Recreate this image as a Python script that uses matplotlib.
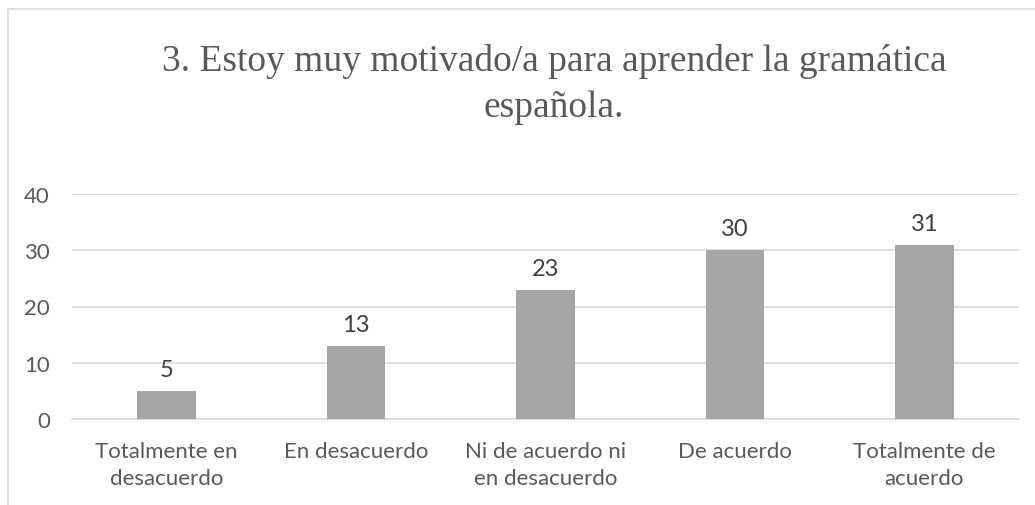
import matplotlib.pyplot as plt
from matplotlib.patches import Rectangle

categories = ['Totalmente en\ndesacuerdo', 'En desacuerdo',
              'Ni de acuerdo ni\nen desacuerdo', 'De acuerdo',
              'Totalmente de\nacuerdo']
values = [5, 13, 23, 30, 31]
yticks = [0, 10, 20, 30, 40]
title = '3. Estoy muy motivado/a para aprender la gramática\nespañola.'

W, H = 1035, 506
fig = plt.figure(figsize=(W / 100, H / 100), dpi=100)
ax = fig.add_axes([72 / W, 1 - 420 / H, (1019 - 72) / W, (420 - 195) / H])

# chart frame: only top and left edges fall inside the picture
fig.patches.append(Rectangle((8 / W, -0.1), 1.2, 1.1 - 10 / H,
                             transform=fig.transFigure, fill=False,
                             edgecolor='#D9D9D9', linewidth=1.2))

x = range(len(values))
ax.bar(x, values, width=0.31, color='#A5A5A5', zorder=3)
for i, v in zip(x, values):
    ax.annotate(str(v), (i, v), xytext=(0, 8), textcoords='offset points',
                ha='center', va='bottom', fontsize=17, color='#404040',
                family='Lato')

ax.set_xlim(-0.5, len(values) - 0.5)
ax.set_ylim(0, 40)
ax.set_yticks(yticks)
ax.yaxis.grid(True, color='#D9D9D9', linewidth=1.2, zorder=0)
ax.set_xticks(list(x))
ax.set_xticklabels(categories, fontsize=16, color='#595959', family='Lato',
                   linespacing=1.4)
for lab in ax.get_yticklabels():
    lab.set_fontsize(16)
    lab.set_color('#595959')
    lab.set_family('Lato')
ax.tick_params(axis='both', length=0)
ax.tick_params(axis='x', pad=16)
ax.tick_params(axis='y', pad=16)
for s in ['top', 'right', 'left']:
    ax.spines[s].set_visible(False)
ax.spines['bottom'].set_color('#D9D9D9')
ax.spines['bottom'].set_linewidth(1.2)

fig.text(554 / W, 1 - 44 / H, title, ha='center', va='top', fontsize=27,
         color='#595959', family='Liberation Serif', linespacing=1.45)

fig.savefig('out.png', dpi=100)
